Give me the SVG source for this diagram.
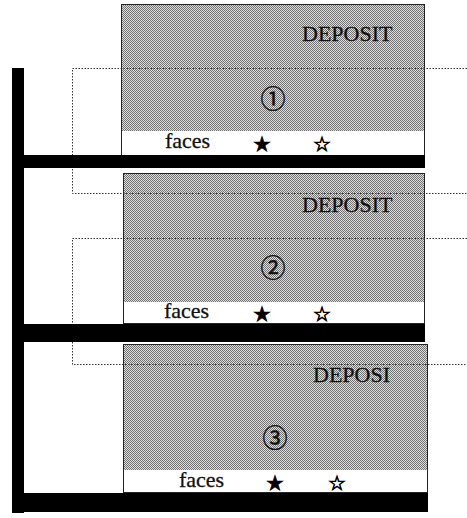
<svg xmlns="http://www.w3.org/2000/svg" width="467" height="518" viewBox="0 0 467 518">
<defs>
<pattern id="ht" width="2" height="2" patternUnits="userSpaceOnUse">
<rect width="2" height="2" fill="#e0e0e0"/>
<rect width="1" height="1" fill="#707070"/>
<rect x="1" y="1" width="1" height="1" fill="#707070"/>
</pattern>
</defs>
<style>
.shade{fill:url(#ht);}
.strip{fill:#fff;}
.frame{fill:none;stroke:#222;stroke-width:1;}
.bar{fill:#000;}
.dot{fill:none;stroke:#333;stroke-width:1;stroke-dasharray:1.5 1.5;}
.lbl{font-family:"Liberation Serif","Times New Roman",serif;font-size:22px;fill:#111;stroke:#111;stroke-width:0.3;}
.num{font-family:"Noto Sans CJK JP","DejaVu Sans",sans-serif;font-size:25px;fill:#111;stroke:#111;stroke-width:0.5;text-anchor:middle;}
.star{font-family:"DejaVu Sans",sans-serif;font-size:20px;fill:#000;stroke:#000;stroke-width:0.8;text-anchor:middle;}
</style>
<g id="box1">
<rect class="shade" x="121" y="4" width="304" height="127"/>
<rect class="strip" x="121" y="131" width="304" height="24"/>
<rect class="frame" x="121.5" y="4.5" width="303" height="151"/>
</g>
<g id="box2">
<rect class="shade" x="123" y="173" width="302" height="129"/>
<rect class="strip" x="123" y="302" width="302" height="22"/>
<rect class="frame" x="123.5" y="173.5" width="301" height="150"/>
</g>
<g id="box3">
<rect class="shade" x="123" y="344" width="305" height="126"/>
<rect class="strip" x="123" y="470" width="305" height="23"/>
<rect class="frame" x="123.5" y="344.5" width="304" height="148"/>
</g>
<g id="connectors">
<path class="dot" d="M467 68.5 H72.5 V193.5 H467"/>
<path class="dot" d="M467 238.5 H72.5 V364.5 H467"/>
</g>
<g id="frame">
<rect class="bar" x="12" y="68" width="12" height="445"/>
<rect class="bar" x="12" y="155" width="413" height="13"/>
<rect class="bar" x="12" y="324" width="413" height="18"/>
<rect class="bar" x="12" y="493" width="416" height="19"/>
</g>
<g id="labels1">
<text class="lbl" x="302" y="41">DEPOSIT</text>
<text class="num" x="273" y="108">①</text>
<text class="lbl" x="165" y="148">faces</text>
<text class="star" x="262" y="151">★</text>
<text class="star" x="322" y="151">☆</text>
</g>
<g id="labels2">
<text class="lbl" x="302" y="212">DEPOSIT</text>
<text class="num" x="273" y="277">②</text>
<text class="lbl" x="164" y="318">faces</text>
<text class="star" x="262" y="321">★</text>
<text class="star" x="322" y="321">☆</text>
</g>
<g id="labels3">
<text class="lbl" x="313" y="382">DEPOSI</text>
<text class="num" x="275" y="447">③</text>
<text class="lbl" x="179" y="487">faces</text>
<text class="star" x="275" y="490">★</text>
<text class="star" x="337" y="490">☆</text>
</g>
</svg>
